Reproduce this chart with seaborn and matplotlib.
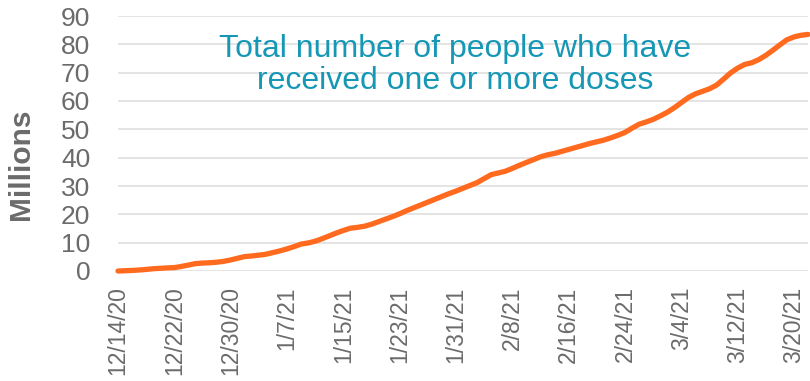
import matplotlib
matplotlib.use("Agg")
import matplotlib.pyplot as plt
import seaborn as sns
import pandas as pd

# Cumulative people with at least one vaccine dose (millions), daily from 12/14/2020
start_date = "2020-12-14"
people_millions = [
    0.0, 0.1, 0.2, 0.35, 0.55, 0.8, 0.95,
    1.1, 1.2, 1.6, 2.1, 2.6, 2.8, 2.9,
    3.1, 3.4, 3.9, 4.5, 5.1, 5.3, 5.6,
    5.9, 6.5, 7.1, 7.8, 8.6, 9.5, 9.9,
    10.5, 11.4, 12.4, 13.4, 14.3, 15.1, 15.4,
    15.8, 16.5, 17.4, 18.3, 19.2, 20.2, 21.3,
    22.3, 23.3, 24.3, 25.3, 26.3, 27.3, 28.2,
    29.2, 30.2, 31.2, 32.6, 34.0, 34.6, 35.2,
    36.2, 37.3, 38.3, 39.3, 40.3, 41.0, 41.5,
    42.2, 42.9, 43.6, 44.3, 45.0, 45.6, 46.2,
    47.0, 47.9, 48.9, 50.4, 51.8, 52.6, 53.5,
    54.7, 56.0, 57.6, 59.4, 61.2, 62.5, 63.4,
    64.3, 65.6, 67.7, 69.9, 71.6, 72.9, 73.5,
    74.6, 76.1, 77.9, 79.8, 81.6, 82.6, 83.2, 83.5,
]
y_ticks = [0, 10, 20, 30, 40, 50, 60, 70, 80, 90]
tick_step_days = 8
annotation = "Total number of people who have\nreceived one or more doses"

dates = pd.date_range(start_date, periods=len(people_millions), freq="D")
df = pd.DataFrame({"date": dates, "people": people_millions})

sns.set_theme(style="white")
plt.rcParams["font.family"] = ["Liberation Sans", "DejaVu Sans"]

gray = "#6b6b6b"
orange = "#ff6a1f"
teal = "#1597b5"

W, H = 810, 381
fig = plt.figure(figsize=(W / 100, H / 100), dpi=100)
ax = fig.add_axes([118 / W, 110 / H, 690 / W, 255 / H])

ax.set_axisbelow(True)
ax.yaxis.grid(True, color="#dcdcdc", linewidth=1.1)
ax.xaxis.grid(False)

sns.lineplot(data=df, x="date", y="people", ax=ax, color=orange,
             linewidth=3.8, solid_capstyle="round", clip_on=False)

ax.set_xlim(dates[0], dates[-1])
ax.set_ylim(0, 90)
ax.set_yticks(y_ticks)
ax.set_yticklabels([str(v) for v in y_ticks])

tick_dates = dates[::tick_step_days]
ax.set_xticks(tick_dates)
ax.set_xticklabels([f"{d.month}/{d.day}/{d.year % 100}" for d in tick_dates],
                   rotation=90, va="top", ha="center")

ax.tick_params(axis="y", labelsize=19, labelcolor=gray, length=0, pad=20)
ax.tick_params(axis="x", labelsize=16.5, labelcolor=gray, length=0, pad=11)

for side in ["top", "right", "left", "bottom"]:
    ax.spines[side].set_visible(False)

ax.set_xlabel("")
ax.set_ylabel("Millions", fontsize=21.5, fontweight="bold", color=gray)
ax.yaxis.set_label_coords((35 - 118) / 690, (271 - 164) / 255)

fig.text(455 / W, 1 - 65 / H, annotation, fontsize=23, color=teal,
         ha="center", va="center", linespacing=1.12)

fig.savefig("out.png", dpi=100)
